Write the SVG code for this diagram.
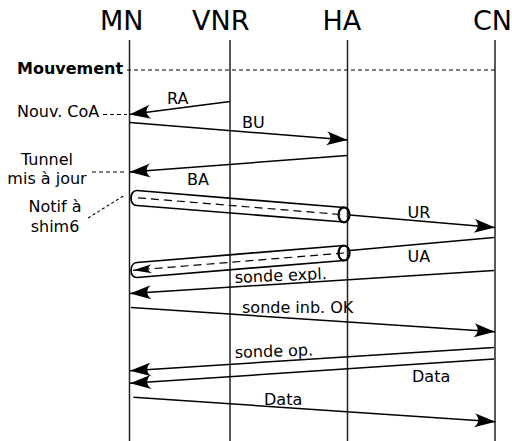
<svg xmlns="http://www.w3.org/2000/svg" width="512" height="441" viewBox="0 0 512 441">
<style>
text{font-family:"DejaVu Sans","Liberation Sans",sans-serif;fill:#000}
.hdr{font-size:27px}
.lbl{font-size:16px}
.life{stroke:#222;stroke-width:1.5;fill:none}
.msg{stroke:#000;stroke-width:1.5;fill:none}
.arr{marker-end:url(#ah)}
.dash{stroke:#000;stroke-width:1.2;stroke-dasharray:4 3;fill:none}
.note{stroke:#000;stroke-width:1.1;stroke-dasharray:3 2.5;fill:none}
.tube{stroke:#000;stroke-width:1.7;fill:none}
.ell{stroke:#000;stroke-width:2.2;fill:none}
.tdash{stroke:#000;stroke-width:1.2;stroke-dasharray:8 5;fill:none}
</style>
<defs>
<marker id="ah" markerUnits="userSpaceOnUse" viewBox="-22 -8 23 16" markerWidth="23" markerHeight="16" refX="0" refY="0" orient="auto" overflow="visible">
<path d="M0,0 L-21,-7 C-16,-2.5 -16,2.5 -21,7 Z" fill="#000"/>
</marker>
<marker id="ahs" markerUnits="userSpaceOnUse" viewBox="-20 -6 21 12" markerWidth="21" markerHeight="12" refX="0" refY="0" orient="auto" overflow="visible">
<path d="M0,0 L-19,-4.5 C-14,-1.5 -14,1.5 -19,4.5 Z" fill="#000"/>
</marker>
</defs>

<g id="MN"><text class="hdr" x="100" y="30">MN</text><line class="life" x1="129.5" y1="40" x2="129.5" y2="441"/></g>
<g id="VNR"><text class="hdr" x="192" y="30">VNR</text><line class="life" x1="230" y1="40" x2="230" y2="441"/></g>
<g id="HA"><text class="hdr" x="322.5" y="30">HA</text><line class="life" x1="347.5" y1="40" x2="347.5" y2="441"/></g>
<g id="CN"><text class="hdr" x="473" y="30">CN</text><line class="life" x1="495" y1="40" x2="495" y2="441"/></g>

<g id="notes">
<text x="17" y="73.5" style="font-size:16px;font-weight:bold">Mouvement</text>
<line class="dash" x1="127" y1="70" x2="495" y2="70"/>
<text class="lbl" x="17" y="117">Nouv. CoA</text>
<line class="dash" x1="103" y1="114.5" x2="127" y2="114.5"/>
<text class="lbl" x="47" y="165" text-anchor="middle">Tunnel</text>
<text class="lbl" x="47" y="184" text-anchor="middle">mis à jour</text>
<line class="dash" x1="92" y1="172" x2="127" y2="172"/>
<text class="lbl" x="55" y="212" text-anchor="middle">Notif à</text>
<text class="lbl" x="55" y="232" text-anchor="middle">shim6</text>
<line class="note" x1="88" y1="218" x2="125" y2="195"/>
</g>

<g id="connectors">
<line class="msg arr" x1="230" y1="101.5" x2="129.5" y2="114.5"/>
<text class="lbl" x="167" y="104">RA</text>
<line class="msg arr" x1="130" y1="122.5" x2="347.5" y2="140"/>
<text class="lbl" x="242" y="128">BU</text>
<line class="msg arr" x1="347" y1="155.5" x2="129.5" y2="172"/>
<text class="lbl" x="187" y="184.5">BA</text>

<g id="tunnel1">
<path class="tube" d="M344,207.5 L137,190.5 C129,190 129,206 137,205.5 L344,222"/>
<ellipse class="ell" cx="344" cy="214.8" rx="5.5" ry="7.5"/>
<line class="tdash" x1="138" y1="197.8" x2="344" y2="214.8"/>
</g>
<line class="msg arr" x1="349.5" y1="215" x2="495" y2="227.5"/>
<text class="lbl" x="407.5" y="217.5">UR</text>

<line class="msg" x1="494" y1="237.5" x2="349.5" y2="250.5"/>
<text class="lbl" x="407.5" y="262">UA</text>
<g id="tunnel2">
<path class="tube" d="M344,245.5 L137,262.5 C129,263 129,278 137,277.5 L344,260.5"/>
<ellipse class="ell" cx="344" cy="253" rx="5.5" ry="7.5"/>
<line class="tdash" x1="344" y1="253" x2="133" y2="270.3" style="marker-end:url(#ahs)"/>
</g>

<line class="msg arr" x1="494" y1="270.5" x2="130" y2="293.5"/>
<text class="lbl" x="235" y="283" transform="rotate(-2.5 235 283)">sonde expl.</text>
<line class="msg arr" x1="131" y1="307.5" x2="495" y2="331.7"/>
<text class="lbl" x="242" y="313">sonde inb. OK</text>
<line class="msg arr" x1="494" y1="347.5" x2="130" y2="370.7"/>
<text class="lbl" x="235" y="358" transform="rotate(-2 235 358)">sonde op.</text>
<line class="msg arr" x1="494" y1="359" x2="130" y2="383.3"/>
<text class="lbl" x="412" y="381.5">Data</text>
<line class="msg arr" x1="133.5" y1="397.3" x2="495.5" y2="421.7"/>
<text class="lbl" x="264" y="405">Data</text>
</g>
</svg>
